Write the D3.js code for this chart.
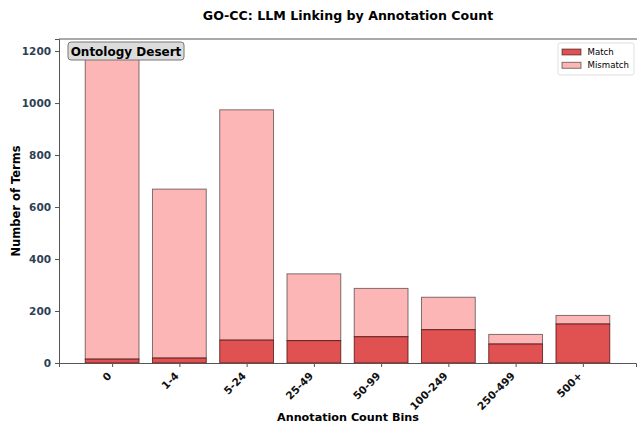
<!DOCTYPE html>
<html>
<head>
<meta charset="utf-8">
<script src="https://cdn.jsdelivr.net/npm/d3@7"></script>
<style>
  body { margin: 0; background: #fff; }
  text { font-family: "DejaVu Sans", sans-serif; }
</style>
</head>
<body>
<script>
// chart data
const bins = ["0", "1-4", "5-24", "25-49", "50-99", "100-249", "250-499", "500+"];
const matchCounts = [15, 19, 88, 86, 101, 128, 73, 150];
const mismatchCounts = [1172, 650, 886, 257, 186, 125, 37, 33];
const yTicks = [0, 200, 400, 600, 800, 1000, 1200];

var width = 637,
  height = 423,
  margin = { top: 39, right: 1, bottom: 60, left: 59 };

var matchColor = "#e05252",
  mismatchColor = "#fcb6b6";

var svg = d3.select("body").append("svg")
  .attr("width", width)
  .attr("height", height);

var totals = bins.map(function (b, i) { return matchCounts[i] + mismatchCounts[i]; });
var yMax = d3.max(totals) * 1.05;

// index scale with matplotlib-like padding
var x = d3.scaleLinear()
  .domain([-0.79, bins.length - 1 + 0.79])
  .range([margin.left, width - margin.right]);

var y = d3.scaleLinear()
  .domain([0, yMax])
  .range([height - margin.bottom, margin.top]);

var barW = x(0.4) - x(-0.4);

var g = svg.append("g");

// mismatch stacked on top
g.selectAll("rect.mismatch")
  .data(bins)
  .enter().append("rect")
  .attr("class", "mismatch")
  .attr("x", function (d, i) { return x(i) - barW / 2; })
  .attr("width", barW)
  .attr("y", function (d, i) { return y(totals[i]); })
  .attr("height", function (d, i) { return y(matchCounts[i]) - y(totals[i]); })
  .attr("fill", mismatchColor)
  .attr("stroke", "rgba(0,0,0,0.5)")
  .attr("stroke-width", 1);

g.selectAll("rect.match")
  .data(bins)
  .enter().append("rect")
  .attr("class", "match")
  .attr("x", function (d, i) { return x(i) - barW / 2; })
  .attr("width", barW)
  .attr("y", function (d, i) { return y(matchCounts[i]); })
  .attr("height", function (d, i) { return y(0) - y(matchCounts[i]); })
  .attr("fill", matchColor)
  .attr("stroke", "rgba(60,0,0,0.7)")
  .attr("stroke-width", 1);

// axes
var yAxis = svg.append("g")
  .attr("transform", "translate(" + margin.left + ",0)")
  .call(d3.axisLeft(y).tickValues(yTicks).tickFormat(d3.format("d")).tickSize(4).tickPadding(4));
yAxis.select(".domain").attr("stroke", "#555");
yAxis.selectAll(".tick line").attr("stroke", "#555");
yAxis.selectAll(".tick text")
  .attr("fill", "#2e3f55")
  .style("font-size", "10.5px")
  .style("font-weight", "bold");

var xAxis = svg.append("g")
  .attr("transform", "translate(0," + (height - margin.bottom) + ")")
  .call(d3.axisBottom(x).tickValues(d3.range(bins.length))
    .tickFormat(function (i) { return bins[i]; }).tickSize(4));
xAxis.select(".domain").attr("stroke", "#555");
xAxis.selectAll(".tick line").attr("stroke", "#555");
xAxis.selectAll(".tick text")
  .attr("fill", "#111")
  .style("font-size", "10.5px")
  .style("font-weight", "bold")
  .attr("text-anchor", "end")
  .attr("y", 0)
  .attr("dy", "0.35em")
  .attr("transform", "translate(-3,11) rotate(-45)");

// top spine
svg.append("line")
  .attr("x1", margin.left).attr("x2", width)
  .attr("y1", margin.top).attr("y2", margin.top)
  .attr("stroke", "#555");

// title and axis labels
svg.append("text")
  .attr("x", (margin.left + width) / 2)
  .attr("y", 20)
  .attr("text-anchor", "middle")
  .style("font-size", "12.6px")
  .style("font-weight", "bold")
  .text("GO-CC: LLM Linking by Annotation Count");

svg.append("text")
  .attr("x", (margin.left + width) / 2)
  .attr("y", 421)
  .attr("text-anchor", "middle")
  .style("font-size", "11.2px")
  .style("font-weight", "bold")
  .text("Annotation Count Bins");

svg.append("text")
  .attr("transform", "translate(20," + ((margin.top + height - margin.bottom) / 2) + ") rotate(-90)")
  .attr("text-anchor", "middle")
  .style("font-size", "11.5px")
  .style("font-weight", "bold")
  .text("Number of Terms");

// annotation box
var note = svg.append("g").attr("transform", "translate(68,42)");
note.append("rect")
  .attr("width", 116).attr("height", 18)
  .attr("rx", 3)
  .attr("fill", "#dcdcdc")
  .attr("stroke", "#777");
note.append("text")
  .attr("x", 58).attr("y", 13.5)
  .attr("text-anchor", "middle")
  .style("font-size", "12px")
  .style("font-weight", "bold")
  .text("Ontology Desert");

// legend
var legend = svg.append("g").attr("transform", "translate(558,43)");
legend.append("rect")
  .attr("width", 76).attr("height", 32)
  .attr("rx", 2)
  .attr("fill", "#fff")
  .attr("stroke", "#e0e0e0");
var items = [["Match", matchColor], ["Mismatch", mismatchColor]];
items.forEach(function (it, i) {
  legend.append("rect")
    .attr("x", 4).attr("y", 6 + i * 13.3)
    .attr("width", 19).attr("height", 6)
    .attr("fill", it[1])
    .attr("stroke", "rgba(0,0,0,0.5)");
  legend.append("text")
    .attr("x", 29.5).attr("y", 12 + i * 13.3)
    .style("font-size", "8.6px")
    .text(it[0]);
});
</script>
</body>
</html>
